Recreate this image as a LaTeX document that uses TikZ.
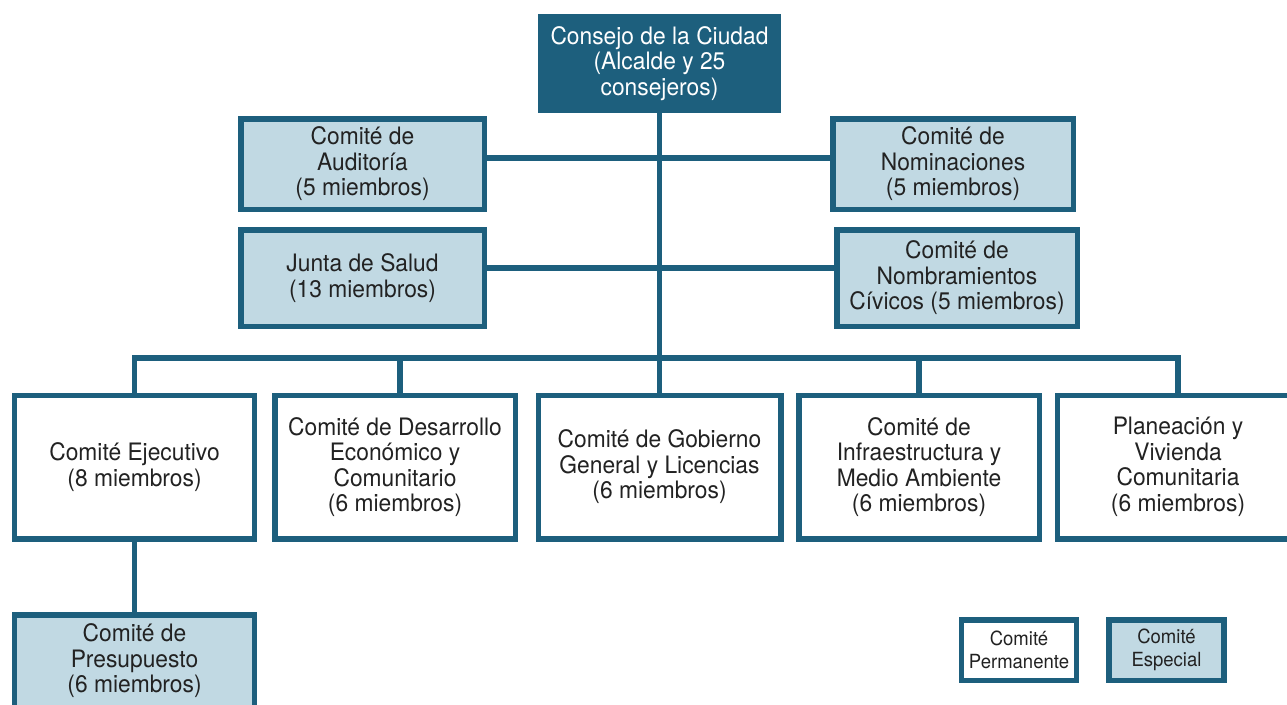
\documentclass[tikz,border=0pt]{standalone}
\usepackage{fontspec}
\setmainfont{TeX Gyre Heros}[FakeStretch=0.95]
\definecolor{councilblue}{HTML}{1D5F7D}
\definecolor{specialfill}{HTML}{C1D9E3}
\definecolor{inkgray}{HTML}{222222}
\begin{document}
\begin{tikzpicture}[x=1pt,y=-1pt,
  perm/.style={draw=councilblue, line width=5.5pt, fill=white, text=inkgray,
    align=center, inner sep=0pt, font=\fontsize{24}{25.5}\selectfont},
  spec/.style={perm, fill=specialfill},
  legendbox/.style={font=\fontsize{19.5}{22.5}\selectfont,
    minimum width=115pt, minimum height=60.5pt},
  link/.style={draw=councilblue, line width=5.5pt}]
\useasboundingbox (0,0) rectangle (1287,704);
\node[perm, fill=councilblue, text=white, minimum width=237.5pt, minimum height=93.5pt]
  at (659.5, 63.5) (council) {Consejo de la Ciudad\\(Alcalde y 25\\consejeros)};
\node[spec, minimum width=243.5pt, minimum height=90.5pt] at (362.5, 164) (aud)
  {Comité de\\Auditoría\\(5 miembros)};
\node[spec, minimum width=240.5pt, minimum height=90.5pt] at (953, 164) (nom)
  {Comité de\\Nominaciones\\(5 miembros)};
\node[spec, minimum width=243.5pt, minimum height=96.5pt] at (362.5, 278) (salud)
  {Junta de Salud\\(13 miembros)};
\node[spec, minimum width=240.5pt, minimum height=96.5pt] at (957, 278) (civ)
  {Comité de\\Nombramientos\\Cívicos (5 miembros)};
\node[perm, minimum width=240pt, minimum height=143.5pt] at (134.5, 467) (ejec)
  {Comité Ejecutivo\\(8 miembros)};
\node[perm, minimum width=240.5pt, minimum height=143.5pt] at (395, 467) (desa)
  {Comité de Desarrollo\\Económico y\\Comunitario\\(6 miembros)};
\node[perm, minimum width=242.5pt, minimum height=143.5pt] at (659.5, 467) (gob)
  {Comité de Gobierno\\General y Licencias\\(6 miembros)};
\node[perm, minimum width=240.5pt, minimum height=143.5pt] at (919, 467) (infra)
  {Comité de\\Infraestructura y\\Medio Ambiente\\(6 miembros)};
\node[perm, minimum width=241.5pt, minimum height=143.5pt] at (1178, 467) (plan)
  {Planeación y\\Vivienda\\Comunitaria\\(6 miembros)};
\node[spec, minimum width=240pt, minimum height=92.5pt] at (134.5, 661) (presu)
  {Comité de\\Presupuesto\\(6 miembros)};
\node[perm, legendbox] at (1019, 650) (permkey) {Comité\\Permanente};
\node[spec, legendbox] at (1166.5, 650) (speckey) {Comité\\Especial};
\coordinate (bus) at (659.5, 358);
\draw[link] (council.south) -- (gob.north);
\draw[link] ([yshift=6pt]aud.east) -- ([yshift=6pt]nom.west);
\draw[link] ([yshift=10pt]salud.east) -- ([yshift=10pt]civ.west);
\draw[link] (ejec.north) -- (ejec.north |- bus) -- (plan.north |- bus) -- (plan.north);
\draw[link] ([xshift=5pt]desa.north |- bus) -- ([xshift=5pt]desa.north);
\draw[link] (infra.north |- bus) -- (infra.north);
\draw[link] (ejec.south) -- (presu.north);
\end{tikzpicture}
\end{document}
